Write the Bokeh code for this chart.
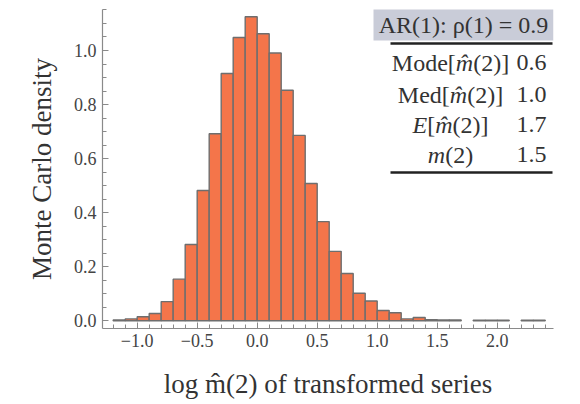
from bokeh.plotting import figure
from bokeh.models import ColumnDataSource, Range1d, Label, BoxAnnotation, FixedTicker
from bokeh.embed import file_html
from bokeh.resources import INLINE

# Histogram of log m-hat(2): bin edges every 0.1 and the density in each bin
bin_left = [-1.2, -1.1, -1.0, -0.9, -0.8, -0.7, -0.6, -0.5, -0.4, -0.3, -0.2, -0.1,
            0.0, 0.1, 0.2, 0.3, 0.4, 0.5, 0.6, 0.7, 0.8, 0.9, 1.0, 1.1, 1.2, 1.3,
            1.4, 1.5, 1.6, 1.8, 1.9, 2.0, 2.2, 2.3]
density = [0.003, 0.007, 0.015, 0.027, 0.071, 0.154, 0.282, 0.482, 0.692, 0.915, 1.048, 1.125,
           1.062, 0.991, 0.853, 0.686, 0.508, 0.367, 0.257, 0.175, 0.102, 0.073, 0.038, 0.030,
           0.007, 0.012, 0.004, 0.003, 0.003, 0.002, 0.002, 0.002, 0.002, 0.002]
bin_width = 0.1

x_ticks = [-1.0, -0.5, 0.0, 0.5, 1.0, 1.5, 2.0]
x_tick_labels = ["\u22121.0", "\u22120.5", "0.0", "0.5", "1.0", "1.5", "2.0"]
y_ticks = [0.0, 0.2, 0.4, 0.6, 0.8, 1.0]
y_tick_labels = ["0.0", "0.2", "0.4", "0.6", "0.8", "1.0"]

y_title = "Monte Carlo density"
x_title = "log m\u0302(2) of transformed series"
table_title = "AR(1): \u03c1(1) = 0.9"
# rich-text pieces of the table's row names: (text, italic?)
row_names = [
    [("Mode[", False), ("m\u0302", True), ("(2)]", False)],
    [("Med[", False), ("m\u0302", True), ("(2)]", False)],
    [("E", True), ("[", False), ("m\u0302", True), ("(2)]", False)],
    [("m", True), ("(2)", False)],
]
row_values = ["0.6", "1.0", "1.7", "1.5"]

FONT = "Liberation Serif"
W, H = 580, 404
FL, FR, FT, FB = 102, 553, 9, 328  # plotting frame in canvas pixels
X0, X1 = -1.289, 2.469
Y0, Y1 = -0.0285, 1.1517


def dx(px):
    return X0 + (px - FL) * (X1 - X0) / (FR - FL)


def dy(py):
    return Y0 + (FB - py) * (Y1 - Y0) / (FB - FT)


# Advance widths (1/1000 em) of the Times-metric serif face, used to lay out mixed-style runs
ROMAN = {"M": 889, "o": 500, "d": 500, "e": 444, "[": 333, "]": 333, "(": 333, ")": 333, "2": 500}
ITALIC = {"m": 722, "E": 611}


def run_width(text, italic, size):
    table = ITALIC if italic else ROMAN
    return sum(table.get(ch, 0 if ch == "\u0302" else 500) for ch in text) * size / 1000.0


def rich_text(pieces, cx, cy, size, color="#333333"):
    total = sum(run_width(t, it, size) for t, it in pieces)
    x = cx - total / 2.0
    for t, it in pieces:
        p.add_layout(Label(x=dx(x), y=dy(cy), text=t, text_font=FONT,
                           text_font_size=f"{size}px", text_color=color,
                           text_font_style="italic" if it else "normal",
                           text_align="left", text_baseline="middle"))
        x += run_width(t, it, size)


src = ColumnDataSource(dict(
    left=bin_left,
    right=[b + bin_width for b in bin_left],
    top=density,
    bottom=[0.0] * len(density),
))

p = figure(width=W, height=H, output_backend="svg", toolbar_location=None,
           x_range=Range1d(X0, X1), y_range=Range1d(Y0, Y1),
           min_border_left=FL, min_border_right=W - FR,
           min_border_top=FT, min_border_bottom=H - FB)
p.outline_line_color = None
p.grid.grid_line_color = None
p.background_fill_color = "white"
p.border_fill_color = "white"

p.quad(left="left", right="right", top="top", bottom="bottom", source=src,
       fill_color="#F4754A", line_color="#6e6e6e", line_width=1.4)

for ax, ticks, labels, minor in (
        (p.xaxis[0], x_ticks, x_tick_labels, [round(-1.2 + 0.1 * i, 2) for i in range(37)]),
        (p.yaxis[0], y_ticks, y_tick_labels, [round(0.05 * i, 2) for i in range(24)])):
    ax.ticker = FixedTicker(ticks=ticks, minor_ticks=minor)
    ax.major_label_overrides = {t: s for t, s in zip(ticks, labels)}
    ax.axis_line_color = "#8a8a8a"
    ax.axis_line_width = 1.2
    ax.major_tick_line_color = "#8a8a8a"
    ax.minor_tick_line_color = "#8a8a8a"
    ax.major_tick_in = 6
    ax.major_tick_out = 0
    ax.minor_tick_in = 4
    ax.minor_tick_out = 0
    ax.major_label_text_font = FONT
    ax.major_label_text_font_size = "18px"
    ax.major_label_text_color = "#444444"
    ax.axis_label_text_font = FONT
    ax.axis_label_text_font_size = "27px"
    ax.axis_label_text_font_style = "normal"
    ax.axis_label_text_color = "#333333"

p.xaxis.major_label_standoff = 5
p.xaxis.axis_label = x_title
p.xaxis.axis_label_standoff = 19
p.yaxis.major_label_standoff = 6
p.yaxis.axis_label = y_title
p.yaxis.axis_label_standoff = 14

# Summary table in the upper right corner
p.add_layout(BoxAnnotation(left=dx(373), right=dx(553), top=dy(8), bottom=dy(40),
                           fill_color="#C9CCD8", fill_alpha=1.0, line_color=None))
p.add_layout(Label(x=dx(463), y=dy(24), text=table_title, text_font=FONT,
                   text_font_size="24px", text_color="#333333",
                   text_align="center", text_baseline="middle"))
for yy in (43, 172):
    p.add_layout(BoxAnnotation(left=dx(390), right=dx(552), top=dy(yy - 1.3), bottom=dy(yy + 1.3),
                               fill_color="#222222", fill_alpha=1.0, line_color=None))
row_centers = [62, 94, 124, 154]
for pieces, val, yy in zip(row_names, row_values, row_centers):
    rich_text(pieces, 450, yy, 24)
    p.add_layout(Label(x=dx(531), y=dy(yy), text=val, text_font=FONT,
                       text_font_size="24px", text_color="#333333",
                       text_align="center", text_baseline="middle"))

open("out.html", "w").write(file_html(p, INLINE))
